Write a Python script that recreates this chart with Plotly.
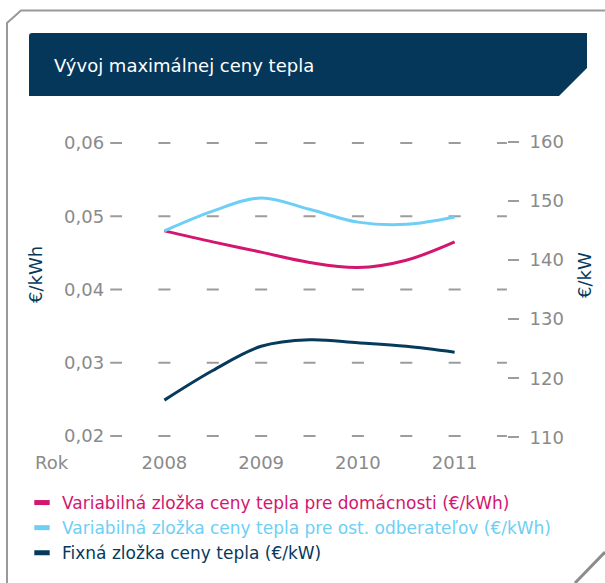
import plotly.graph_objects as go

W, H = 605, 583

years = [2008, 2008.5, 2009, 2009.5, 2010, 2010.5, 2011]
domacnosti = [0.0480, 0.0465, 0.0451, 0.0437, 0.0430, 0.0440, 0.0465]
ost_odberatelia = [0.0480, 0.0507, 0.0525, 0.05095, 0.0492, 0.0489, 0.0499]
fixna = [116.3, 121.3, 125.4, 126.5, 126.0, 125.4, 124.4]

year_ticks = [2008, 2009, 2010, 2011]
left_ticks = [0.02, 0.03, 0.04, 0.05, 0.06]
left_labels = ["0,02", "0,03", "0,04", "0,05", "0,06"]
right_ticks = [110, 120, 130, 140, 150, 160]
grid_x = [2007.5 + 0.5 * i for i in range(9)]

names = [
    "Variabilná zložka ceny tepla pre domácnosti (€/kWh)",
    "Variabilná zložka ceny tepla pre ost. odberateľov (€/kWh)",
    "Fixná zložka ceny tepla (€/kW)",
]

MAGENTA = "#d3166f"
CYAN = "#6dcff6"
NAVY = "#063a5c"
GRAY = "#8a8a8a"
FONT = "DejaVu Sans"


def px(x):
    return x / W


def py(y):
    return 1 - y / H


fig = go.Figure()

# dashed "grid" made of short strokes
gx = [x for x in grid_x for _ in left_ticks]
gy = [y for _ in grid_x for y in left_ticks]
fig.add_trace(go.Scatter(
    x=gx, y=gy, mode="markers", showlegend=False, hoverinfo="skip",
    marker=dict(symbol="line-ew", size=8.6, line=dict(width=2, color="#9c9c9c")),
))

fig.add_trace(go.Scatter(x=years, y=domacnosti, mode="lines", showlegend=False,
                         line=dict(color=MAGENTA, width=3, shape="spline", smoothing=1.0)))
fig.add_trace(go.Scatter(x=years, y=ost_odberatelia, mode="lines", showlegend=False,
                         line=dict(color=CYAN, width=3, shape="spline", smoothing=1.0)))
fig.add_trace(go.Scatter(x=years, y=fixna, mode="lines", showlegend=False, yaxis="y2",
                         line=dict(color=NAVY, width=3, shape="spline", smoothing=1.0)))

# legend entries
for name, c in zip(names, [MAGENTA, CYAN, NAVY]):
    fig.add_trace(go.Scatter(
        x=[None], y=[None], mode="markers",
        name=f"<span style='color:{c}'>{name}</span>",
        marker=dict(symbol="line-ew", size=11, line=dict(width=5, color=c)),
    ))

L, R, T, B = 110.2, 506.9, 135.7, 443.3

fig.update_layout(
    width=W, height=H,
    margin=dict(l=0, r=0, t=0, b=0, pad=0),
    paper_bgcolor="white", plot_bgcolor="white",
    font=dict(family=FONT, size=18, color=GRAY),
    xaxis=dict(domain=[px(L), px(R)], range=[2007.44, 2011.54],
               tickvals=year_ticks, ticktext=[str(y) for y in year_ticks],
               showgrid=False, zeroline=False, showline=False, ticks="",
               ticklabelstandoff=7, automargin=False),
    yaxis=dict(domain=[py(B), py(T)], range=[0.019, 0.061],
               tickvals=left_ticks, ticktext=left_labels,
               showgrid=False, zeroline=False, showline=False, ticks="",
               ticklabelstandoff=5, automargin=False),
    yaxis2=dict(overlaying="y", side="right", range=[109, 161],
                tickvals=right_ticks, showgrid=False, zeroline=False, showline=False,
                ticks="outside", ticklen=11, tickwidth=2, tickcolor="#9c9c9c",
                ticklabelstandoff=7, automargin=False),
    legend=dict(x=px(22), y=py(485), xanchor="left", yanchor="top",
                font=dict(family=FONT, size=17), tracegroupgap=0,
                bgcolor="rgba(0,0,0,0)"),
    shapes=[
        dict(type="path", xref="paper", yref="paper",
             path=f"M {px(7)},{py(583)} L {px(7)},{py(23)} L {px(21)},{py(10.5)} L {px(605)},{py(10.5)}",
             line=dict(color="#999999", width=2)),
        dict(type="path", xref="paper", yref="paper",
             path=f"M {px(605)},{py(552)} L {px(575)},{py(583)}",
             line=dict(color="#8c8c8c", width=3)),
        dict(type="path", xref="paper", yref="paper",
             path=(f"M {px(29)},{py(36)} Q {px(29)},{py(33)} {px(32)},{py(33)} "
                   f"L {px(587)},{py(33)} L {px(587)},{py(68)} L {px(559)},{py(96)} "
                   f"L {px(29)},{py(96)} Z"),
             fillcolor="#05375a", line=dict(width=0)),
    ],
    annotations=[
        dict(text="Vývoj maximálnej ceny tepla", xref="paper", yref="paper",
             x=px(52), y=py(65), xanchor="left", yanchor="middle", showarrow=False,
             font=dict(family=FONT, size=18, color="white")),
        dict(text="€/kWh", xref="paper", yref="paper", x=px(35), y=py(275),
             textangle=-90, showarrow=False, xanchor="center", yanchor="middle",
             font=dict(family=FONT, size=18, color=NAVY)),
        dict(text="€/kW", xref="paper", yref="paper", x=px(584), y=py(275),
             textangle=-90, showarrow=False, xanchor="center", yanchor="middle",
             font=dict(family=FONT, size=18, color=NAVY)),
        dict(text="Rok", xref="paper", yref="paper", x=px(52), y=py(462),
             showarrow=False, xanchor="center", yanchor="middle",
             font=dict(family=FONT, size=18, color=GRAY)),
    ],
)

fig.write_html("out.html", config={"displayModeBar": False},
               post_script="document.body.style.margin='0';")
